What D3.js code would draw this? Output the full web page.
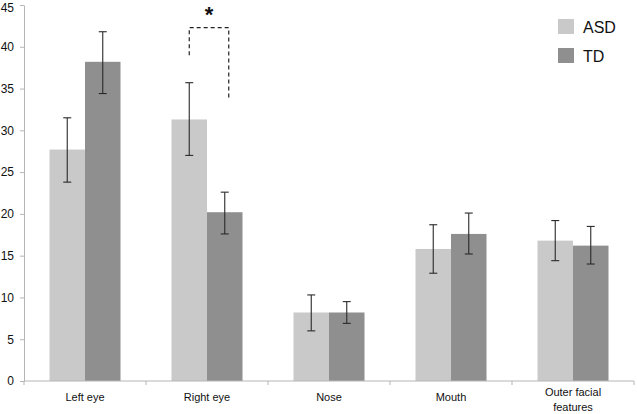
<!DOCTYPE html>
<html>
<head>
    <meta charset="UTF-8">
    <title>ASD vs TD</title>
    <script src="https://d3js.org/d3.v7.min.js"></script>
    <style>
        body {
            background-color: #ffffff;
            margin: 0;
            padding: 0;
        }
        svg text {
            font-family: 'Liberation Sans', Arial, sans-serif;
            fill: #111;
        }
    </style>
</head>
<body>
    <svg width="637" height="414"></svg>

    <script>
        // values
        const categories = ["Left eye", "Right eye", "Nose", "Mouth", "Outer facial features"];
        const groups = ["ASD", "TD"];
        const asdValues = [27.7, 31.3, 8.2, 15.8, 16.8];
        const asdUpper  = [31.5, 35.7, 10.3, 18.7, 19.2];
        const asdLower  = [23.8, 27.0, 6.0, 12.9, 14.4];
        const tdValues  = [38.2, 20.2, 8.2, 17.6, 16.2];
        const tdUpper   = [41.8, 22.6, 9.5, 20.1, 18.5];
        const tdLower   = [34.4, 17.6, 6.9, 15.2, 14.0];
        const yTicks = [0, 5, 10, 15, 20, 25, 30, 35, 40, 45];
        // significance bracket on Right eye (value units)
        const bracket = { category: "Right eye", top: 42.3, leftEnd: 39.0, rightEnd: 33.9, label: "*" };

        const colors = { ASD: "#c9c9c9", TD: "#8f8f8f" };

        const svg = d3.select("svg");

        const x = d3.scaleBand().domain(categories).range([24, 634]);
        const x1 = d3.scaleBand().domain(groups)
            .range([x.bandwidth() * 0.209, x.bandwidth() * 0.791]);
        const y = d3.scaleLinear().domain([0, 45]).range([381, 5]);

        const rows = categories.map(function (c, i) {
            return {
                cat: c,
                bars: [
                    { g: "ASD", v: asdValues[i], hi: asdUpper[i], lo: asdLower[i] },
                    { g: "TD", v: tdValues[i], hi: tdUpper[i], lo: tdLower[i] }
                ]
            };
        });

        // bars
        const cg = svg.append("g").selectAll("g")
            .data(rows)
            .enter()
            .append("g")
            .attr("transform", function (d) { return "translate(" + x(d.cat) + ",0)"; });

        cg.selectAll("rect")
            .data(function (d) { return d.bars; })
            .enter()
            .append("rect")
            .attr("x", function (d) { return x1(d.g); })
            .attr("y", function (d) { return y(d.v); })
            .attr("width", x1.bandwidth())
            .attr("height", function (d) { return y(0) - y(d.v); })
            .attr("fill", function (d) { return colors[d.g]; });

        // error bars
        const eb = cg.selectAll("g.err")
            .data(function (d) { return d.bars; })
            .enter()
            .append("g")
            .attr("class", "err")
            .attr("stroke", "#2a2a2a")
            .attr("stroke-width", 1.1);
        const cx = function (d) { return x1(d.g) + x1.bandwidth() / 2; };
        eb.append("line")
            .attr("x1", cx).attr("x2", cx)
            .attr("y1", function (d) { return y(d.hi); })
            .attr("y2", function (d) { return y(d.lo); });
        eb.append("line")
            .attr("x1", function (d) { return cx(d) - 4; })
            .attr("x2", function (d) { return cx(d) + 4; })
            .attr("y1", function (d) { return y(d.hi); })
            .attr("y2", function (d) { return y(d.hi); });
        eb.append("line")
            .attr("x1", function (d) { return cx(d) - 4; })
            .attr("x2", function (d) { return cx(d) + 4; })
            .attr("y1", function (d) { return y(d.lo); })
            .attr("y2", function (d) { return y(d.lo); });

        // y axis
        const yAxis = svg.append("g")
            .attr("transform", "translate(24,0)")
            .call(d3.axisLeft(y).tickValues(yTicks).tickSize(4).tickPadding(6).tickSizeOuter(0));
        yAxis.select(".domain").attr("stroke", "#b5b5b5");
        yAxis.selectAll(".tick line").attr("stroke", "#b5b5b5");
        yAxis.selectAll(".tick text")
            .attr("font-size", "12px")
            .attr("fill", "#111")
            .attr("font-family", "'Liberation Sans', Arial, sans-serif");
        // keep the top label inside the picture
        yAxis.selectAll(".tick text")
            .filter(function (d) { return d === 45; })
            .attr("dy", "0.32em")
            .attr("y", 2.5);

        // x axis
        const xAxis = svg.append("g")
            .attr("transform", "translate(0," + y(0) + ")");
        xAxis.append("line")
            .attr("x1", x.range()[0]).attr("x2", x.range()[1])
            .attr("y1", 0).attr("y2", 0)
            .attr("stroke", "#b5b5b5");
        const bounds = categories.map(function (c) { return x(c); }).concat([x.range()[1]]);
        xAxis.selectAll("line.tk")
            .data(bounds)
            .enter()
            .append("line")
            .attr("class", "tk")
            .attr("x1", function (d) { return d; }).attr("x2", function (d) { return d; })
            .attr("y1", 0).attr("y2", 4)
            .attr("stroke", "#b5b5b5");

        const labels = xAxis.selectAll("text")
            .data(categories)
            .enter()
            .append("text")
            .attr("x", function (d) { return x(d) + x.bandwidth() / 2; })
            .attr("y", 20)
            .attr("text-anchor", "middle")
            .attr("font-size", "11px");
        labels.each(function (d) {
            const t = d3.select(this);
            if (d === "Outer facial features") {
                t.attr("y", 15);
                t.append("tspan").attr("x", x(d) + x.bandwidth() / 2).text("Outer facial");
                t.append("tspan").attr("x", x(d) + x.bandwidth() / 2).attr("dy", 15).text("features");
            } else {
                t.text(d);
            }
        });

        // significance bracket
        const bx0 = x(bracket.category) + x1("ASD") + x1.bandwidth() / 2;
        const bx1 = x(bracket.category) + x1("TD") + x1.bandwidth() / 2 + 4;
        svg.append("path")
            .attr("d", "M" + bx0 + "," + y(bracket.leftEnd) +
                       "V" + y(bracket.top) +
                       "H" + bx1 +
                       "V" + y(bracket.rightEnd))
            .attr("fill", "none")
            .attr("stroke", "#222")
            .attr("stroke-width", 1.2)
            .attr("stroke-dasharray", "4,3");
        svg.append("text")
            .attr("x", (bx0 + bx1) / 2)
            .attr("y", 22)
            .attr("text-anchor", "middle")
            .attr("font-size", "22px")
            .attr("font-weight", "bold")
            .text(bracket.label);

        // legend
        const lg = svg.append("g").selectAll("g")
            .data(groups)
            .enter()
            .append("g")
            .attr("transform", function (d, i) { return "translate(558," + (19 + i * 29) + ")"; });
        lg.append("rect")
            .attr("width", 16).attr("height", 15)
            .attr("fill", function (d) { return colors[d]; });
        lg.append("text")
            .attr("x", 25).attr("y", 13.5)
            .attr("font-size", "16px")
            .text(function (d) { return d; });
    </script>
</body>
</html>
